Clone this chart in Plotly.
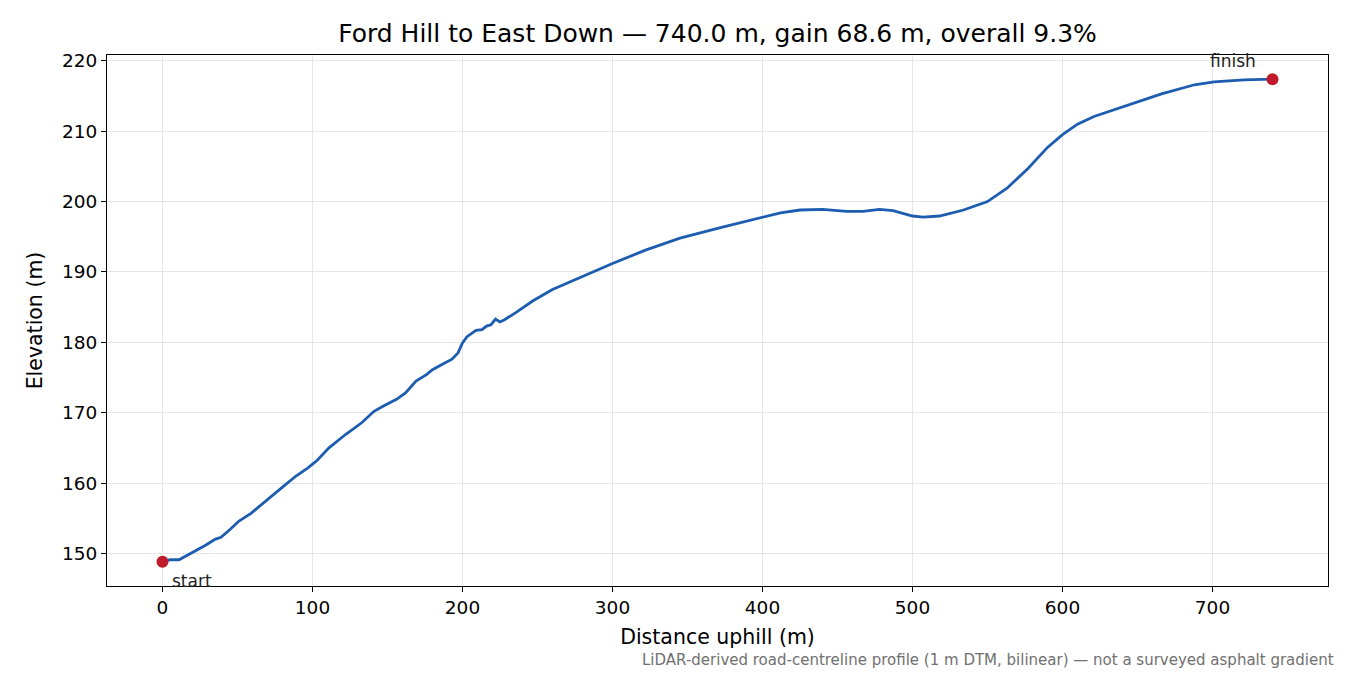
import plotly.graph_objects as go

# --- profile ---
DIST = [0, 5, 11, 20, 29, 35, 39, 45, 51, 59, 65, 75, 81, 89, 96, 100, 103,
        111, 122, 133, 141, 147, 156, 162, 169, 176, 180, 186, 193, 197, 200,
        203, 209, 213, 216, 219, 222, 225, 228, 236, 247, 260, 274, 292, 300,
        322, 345, 372, 385, 399, 412, 425, 440, 456, 467, 478, 487, 500, 507,
        518, 534, 550, 563, 577, 590, 600, 610, 621, 643, 666, 688, 701, 721, 740]
ELEV = [148.8, 149.1, 149.1, 150.1, 151.2, 152.0, 152.3, 153.4, 154.6, 155.7,
        156.8, 158.6, 159.6, 161.0, 162.0, 162.7, 163.2, 165.0, 166.9, 168.6,
        170.2, 170.9, 171.9, 172.8, 174.5, 175.4, 176.1, 176.8, 177.6, 178.5,
        179.9, 180.8, 181.7, 181.8, 182.3, 182.5, 183.3, 182.9, 183.2, 184.3,
        185.9, 187.5, 188.8, 190.5, 191.2, 193.1, 194.8, 196.3, 197.0, 197.7,
        198.4, 198.8, 198.9, 198.6, 198.6, 198.9, 198.7, 197.95, 197.8, 197.95,
        198.8, 200.0, 201.9, 204.7, 207.7, 209.5, 211.0, 212.1, 213.7, 215.3,
        216.6, 217.0, 217.3, 217.4]

TITLE = "Ford Hill to East Down — 740.0 m, gain 68.6 m, overall 9.3%"
NOTE = "LiDAR-derived road-centreline profile (1 m DTM, bilinear) — not a surveyed asphalt gradient"
X_TICKS = [0, 100, 200, 300, 400, 500, 600, 700]
Y_TICKS = [150, 160, 170, 180, 190, 200, 210, 220]

FONT = "DejaVu Sans"
span_x = DIST[-1] - DIST[0]
span_y = max(ELEV) - min(ELEV)

# page sits 8px in from the window edge, so the figure is 8px smaller
W, H = 1342, 667
L, R, T, B = 99, 22, 47, 89

fig = go.Figure()
fig.add_trace(go.Scatter(x=DIST, y=ELEV, mode="lines",
                         line=dict(color="#1c5cb1", width=2.8), showlegend=False))
fig.add_trace(go.Scatter(x=[DIST[0], DIST[-1]], y=[ELEV[0], ELEV[-1]], mode="markers",
                         marker=dict(color="#c11b2b", size=12), showlegend=False))

fig.add_annotation(x=DIST[0], y=ELEV[0], text="start", showarrow=False,
                   xanchor="left", yanchor="middle", xshift=7, yshift=-19,
                   font=dict(family=FONT, size=17, color="#222"))
fig.add_annotation(x=DIST[-1], y=ELEV[-1], text="finish", showarrow=False,
                   xanchor="right", yanchor="middle", xshift=-15, yshift=18,
                   font=dict(family=FONT, size=17, color="#222"))
fig.add_annotation(xref="paper", yref="paper", x=1.0066, y=-0.1394, text=NOTE,
                   showarrow=False, xanchor="right", yanchor="middle",
                   font=dict(family=FONT, size=15, color="#707070"))

axis_common = dict(showline=True, linecolor="black", linewidth=1.1, mirror=True,
                   ticks="outside", ticklen=5, tickwidth=1.1, tickcolor="black",
                   showgrid=True, gridcolor="#e5e5e5", gridwidth=1, zeroline=False,
                   tickfont=dict(family=FONT, size=18.5, color="black"))

fig.update_xaxes(range=[DIST[0] - 0.05 * span_x, DIST[-1] + 0.05 * span_x],
                 tickvals=X_TICKS,
                 title=dict(text="Distance uphill (m)", standoff=12,
                            font=dict(family=FONT, size=20.5, color="black")),
                 **axis_common)
fig.update_yaxes(range=[min(ELEV) - 0.05 * span_y, max(ELEV) + 0.05 * span_y],
                 tickvals=Y_TICKS,
                 title=dict(text="Elevation (m)", standoff=13,
                            font=dict(family=FONT, size=20.5, color="black")),
                 **axis_common)

fig.update_layout(
    width=W, height=H,
    margin=dict(l=L, r=R, t=T, b=B),
    paper_bgcolor="white", plot_bgcolor="white",
    title=dict(text=TITLE, x=(L + (W - L - R) / 2) / W, xanchor="center",
               y=1 - 25 / H, yanchor="middle",
               font=dict(family=FONT, size=25, color="black")),
)

fig.write_html("out.html")
